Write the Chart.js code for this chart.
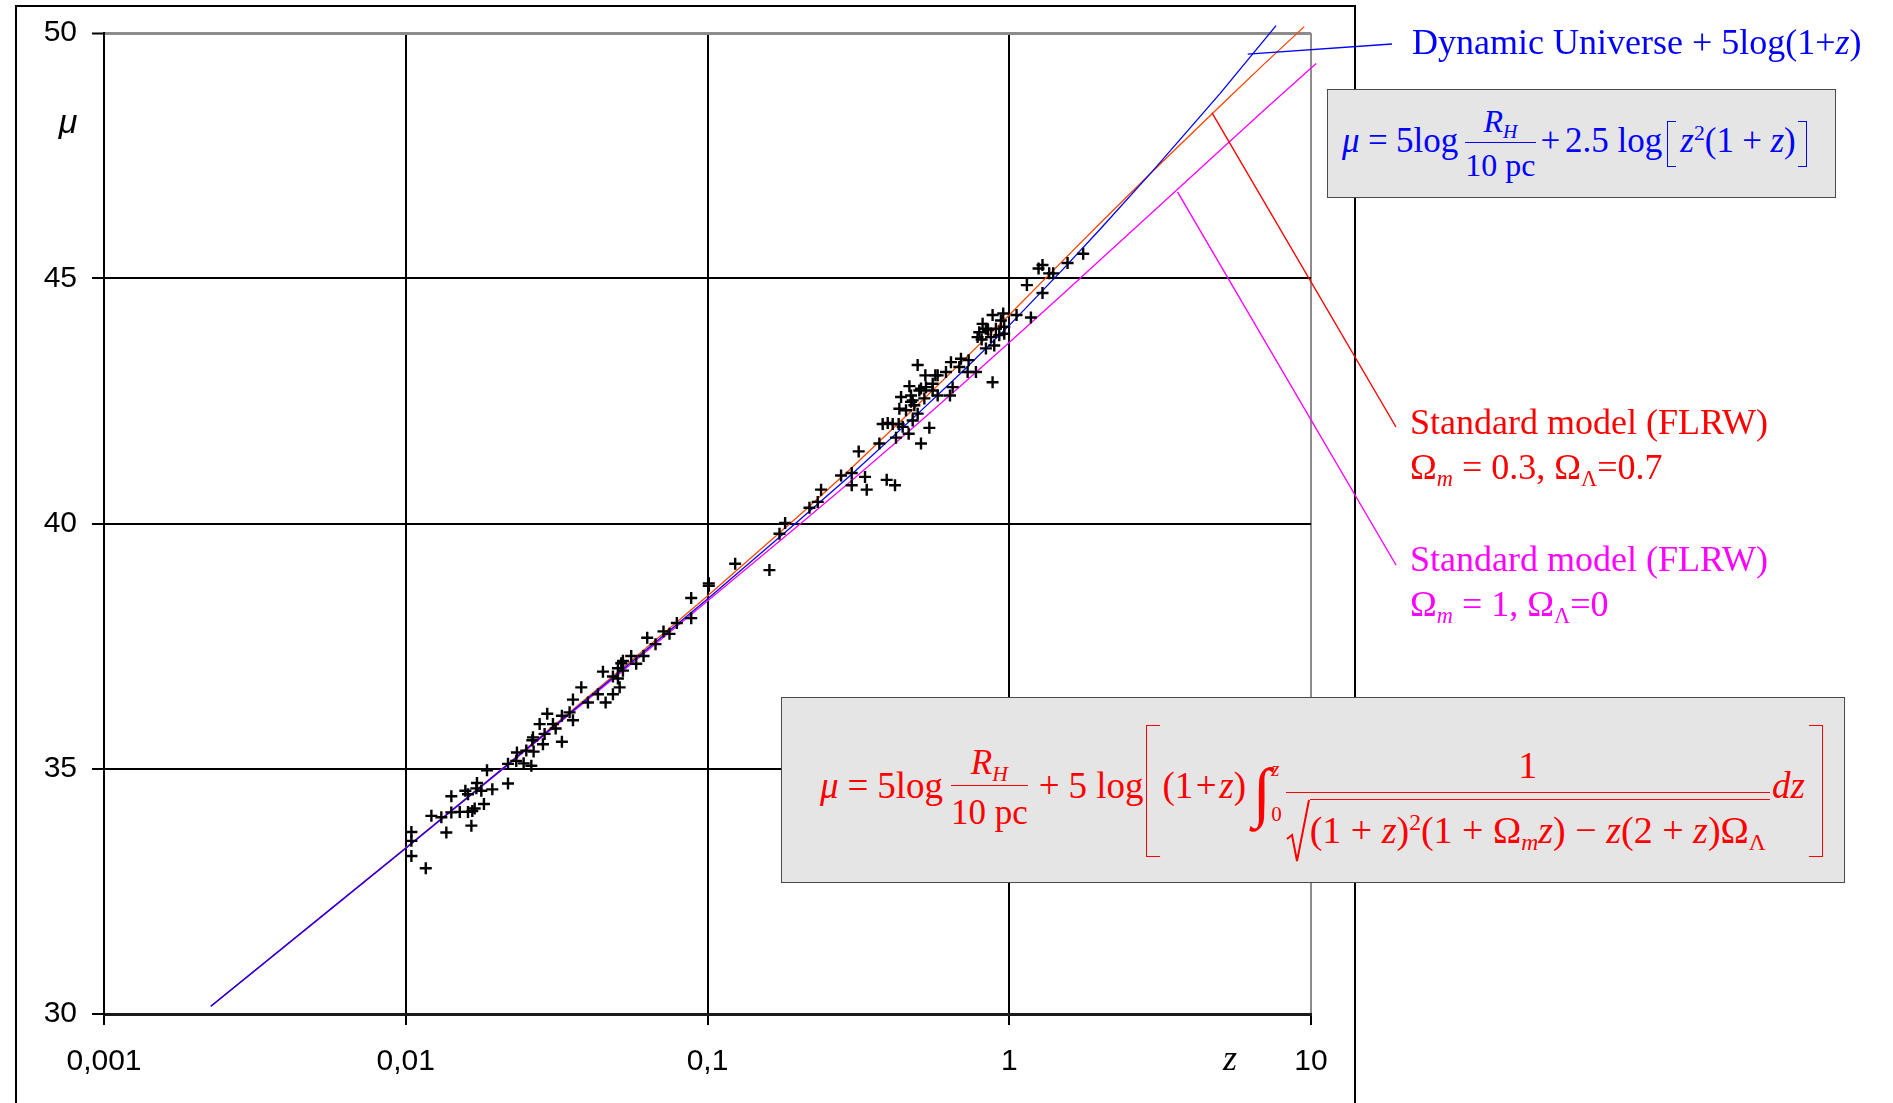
<!DOCTYPE html>
<html lang="en">
<head>
<meta charset="UTF-8">
<title>Distance modulus versus redshift</title>
<style>
    html, body { margin: 0; padding: 0; background: #fff; overflow: hidden; }
    #wrap { position: relative; width: 1893px; height: 1103px; overflow: hidden; }
    #chart { position: absolute; left: 0; top: 0; }
    #frame {
        position: absolute; left: 15px; top: 5px; width: 1341px; height: 1200px;
        box-sizing: border-box; border: 2px solid #000; border-bottom: none;
    }
    .lbl { position: absolute; white-space: nowrap; font-family: 'Liberation Serif', serif; }
    .sym { position: absolute; text-align: center; font-style: italic; }
    #mu-label { left: 54px; top: 102px; width: 28px; line-height: 36px; font: italic 34px 'Liberation Sans', sans-serif; }
    #z-label { left: 1218px; top: 1037px; width: 24px; line-height: 36px; font: italic 36px 'Liberation Serif', serif; }

    #du-label { left: 1412px; top: 24px; font-size: 36px; line-height: 36px; color: #0000ff; }
    .flrw { left: 1410px; font-size: 36px; line-height: 45px; }
    #lcdm-label { top: 400px; color: #ff0000; }
    #eds-label { top: 537px; color: #ff00ff; }
    .flrw sub, .box sub { font-size: 0.62em; vertical-align: -0.3em; line-height: 0; }
    .box sup { font-size: 0.62em; vertical-align: 0.55em; line-height: 0; }

    .box {
        position: absolute; box-sizing: border-box; background: #e5e5e5;
        border: 1.5px solid #4a4a4a; display: flex; align-items: center;
        font-family: 'Liberation Serif', serif; white-space: nowrap;
    }
    .eq { line-height: 1.15; }
    .op { margin: 0 0.24em; }
    .op.n { margin: 0 0.14em; }
    .op.t { margin: 0 0.07em; }
    .frac { display: inline-flex; flex-direction: column; align-items: center; vertical-align: middle; }
    .frac > .num { align-self: stretch; text-align: center; border-bottom: 1.6px solid currentColor; padding: 0 2px; }
    .frac > .den { text-align: center; }
    .brk { display: inline-block; vertical-align: middle; box-sizing: border-box; border: 1.6px solid currentColor; }
    .brk.l { border-right: none; }
    .brk.r { border-left: none; }

    #du-box { left: 1327px; top: 89px; width: 509px; height: 109px; color: #0000ff; font-size: 35px; padding-left: 14px; }
    #du-box .frac { font-size: 32px; margin: 0 0 0 7px; }
    #du-box .frac > .num { line-height: 42px; }
    #du-box .frac > .den { line-height: 44px; }
    #du-box .brk { width: 9px; height: 46px; margin: 0 4px 0 5px; }
    #du-box .brk.r { margin: 0 0 0 2px; }

    #flrw-box { left: 781px; top: 697px; width: 1064px; height: 186px; color: #ff0000; font-size: 37px; padding-left: 38px; }
    #flrw-box .frac.sm { font-size: 35px; margin: 0 2px 0 8px; }
    #flrw-box .frac.sm > .num { line-height: 44px; }
    #flrw-box .frac.sm > .den { line-height: 54px; }
    #flrw-box .brk { width: 14px; height: 132px; margin: 0 2px 0 3px; position: relative; top: 1px; }
    #flrw-box .brk.r { margin: 0 0 0 4px; }
    #flrw-box .int { display: inline-flex; align-items: center; vertical-align: middle; margin: 0 2px 0 7px; position: relative; top: 2px; }
    #flrw-box .int .sign { font-size: 66px; line-height: 1; }
    #flrw-box .int .lim { display: inline-flex; flex-direction: column; justify-content: space-between; height: 66px; font-size: 21px; line-height: 21px; margin-left: 0; }
    #flrw-box .frac.lg { font-size: 38px; margin: 0 2px; position: relative; top: 6px; }
    #flrw-box .frac.lg > .num {
        height: 66px; display: flex; align-items: flex-end; justify-content: center;
        line-height: 44px; padding-bottom: 5px; box-sizing: border-box;
        border-bottom-width: 1.6px; margin-bottom: 6px;
    }
    #flrw-box .frac.lg > .den { height: 66px; }
    .rad { display: inline-flex; align-items: flex-start; }
    .rad svg { display: block; }
    .radicand { border-top: 1.6px solid currentColor; line-height: 60px; padding-right: 4px; }
    .radicand .op { margin: 0 0.25em; }
</style>
</head>
<body>
<div id="wrap">
    <div id="frame"></div>
    <canvas id="chart" width="1893" height="1103"></canvas>

    <div class="sym" id="mu-label">μ</div>
    <div class="sym" id="z-label">z</div>

    <div class="lbl" id="du-label">Dynamic Universe + 5log(1+<i>z</i>)</div>
    <div class="lbl flrw" id="lcdm-label">Standard model (FLRW)<br>Ω<sub><i>m</i></sub> = 0.3, Ω<sub>Λ</sub>=0.7</div>
    <div class="lbl flrw" id="eds-label">Standard model (FLRW)<br>Ω<sub><i>m</i></sub> = 1, Ω<sub>Λ</sub>=0</div>

    <div class="box" id="du-box"><div class="eq"><i>μ</i><span class="op">=</span>5log<span class="frac"><span class="num"><i>R</i><sub><i>H</i></sub></span><span class="den">10 pc</span></span><span class="op n">+</span>2.5 log<span class="brk l"></span><i>z</i><sup>2</sup>(1<span class="op">+</span><i>z</i>)<span class="brk r"></span></div></div>

    <div class="box" id="flrw-box"><div class="eq"><i>μ</i><span class="op">=</span>5log<span class="frac sm"><span class="num"><i>R</i><sub><i>H</i></sub></span><span class="den">10 pc</span></span><span class="op">+</span>5 log<span class="brk l"></span>(1<span class="op t">+</span><i>z</i>)<span class="int"><span class="sign">∫</span><span class="lim"><i>z</i><span>0</span></span></span><span class="frac lg"><span class="num">1</span><span class="den"><span class="rad"><svg width="24" height="64" viewBox="0 0 24 64"><path d="M1 40 L6 36 L11 62 L23 1" fill="none" stroke="#ff0000" stroke-width="2"/></svg><span class="radicand">(1<span class="op">+</span><i>z</i>)<sup>2</sup>(1<span class="op">+</span>Ω<sub><i>m</i></sub><i>z</i>)<span class="op">−</span><i>z</i>(2<span class="op">+</span><i>z</i>)Ω<sub>Λ</sub></span></span></span></span><i>dz</i><span class="brk r"></span></div></div>
</div>

<script src="https://cdn.jsdelivr.net/npm/chart.js"></script>
<script>
    // supernova sample: redshift z and distance modulus mu
    const snZ = [
        0.01044, 0.01044, 0.01044, 0.01165, 0.01216, 0.01312, 0.01363, 0.01416, 0.01416, 0.0151,
        0.01576, 0.01608, 0.01608, 0.0165, 0.01662, 0.01692, 0.01714, 0.01722, 0.0178, 0.01816,
        0.01859, 0.01936, 0.02182, 0.02182, 0.02324, 0.02336, 0.02459, 0.02509, 0.02607, 0.02627,
        0.0264, 0.02653, 0.02778, 0.02849, 0.02885, 0.02944, 0.03075, 0.03139, 0.03292, 0.03292,
        0.03491, 0.03582, 0.03582, 0.03817, 0.04016, 0.04334, 0.04503, 0.04596, 0.0486, 0.0486,
        0.05048, 0.05048, 0.05114, 0.05179, 0.05245, 0.05245, 0.05587, 0.05804, 0.06138, 0.06313,
        0.06726, 0.07148, 0.07483, 0.07914, 0.08831, 0.08831, 0.101, 0.101, 0.1235, 0.1604,
        0.1732, 0.1808, 0.2177, 0.2319, 0.2379, 0.2771, 0.3006, 0.3006, 0.317, 0.3327,
        0.337, 0.3712, 0.3807, 0.3925, 0.3956, 0.4109, 0.4182, 0.4214, 0.4301, 0.4323,
        0.438, 0.4434, 0.4549, 0.4642, 0.4667, 0.4726, 0.4725, 0.4786, 0.4786, 0.4847,
        0.4971, 0.4971, 0.5035, 0.5099, 0.5099, 0.5232, 0.5272, 0.5297, 0.5435, 0.5574,
        0.5576, 0.5689, 0.5791, 0.579, 0.6171, 0.6361, 0.6409, 0.6491, 0.6831, 0.6918,
        0.7278, 0.7333, 0.7755, 0.7854, 0.7954, 0.81, 0.816, 0.837, 0.837, 0.85,
        0.87, 0.8806, 0.8806, 0.8918, 0.9033, 0.9267, 0.9384, 0.9552, 0.9625, 0.9625,
        1.0573, 1.1442, 1.1797, 1.2506, 1.2889, 1.2889, 1.3561, 1.3983, 1.5603, 1.7579
    ];
    const snMu = [
        33.71, 33.53, 33.22, 32.97, 34.04, 34.01, 33.70, 34.44, 34.11, 34.12,
        34.55, 34.48, 34.12, 33.84, 34.14, 34.19, 34.60, 34.71, 34.55, 34.28,
        34.97, 34.58, 35.10, 34.70, 35.16, 35.33, 35.11, 35.37, 35.06, 35.58,
        35.64, 35.35, 35.91, 35.50, 35.71, 36.12, 35.91, 35.82, 36.08, 35.55,
        36.15, 36.41, 35.99, 36.66, 36.35, 36.52, 36.98, 36.35, 36.52, 36.88,
        37.05, 36.84, 36.66, 37.15, 37.20, 37.00, 37.30, 37.14, 37.30, 37.67,
        37.54, 37.80, 37.75, 37.97, 38.48, 38.07, 38.73, 38.78, 39.18, 39.05,
        39.79, 40.01, 40.32, 40.44, 40.69, 40.98, 41.03, 40.78, 41.47, 40.95,
        40.69, 41.63, 42.03, 40.89, 42.05, 42.03, 40.78, 41.75, 42.03, 42.34,
        42.58, 41.97, 42.31, 41.83, 42.80, 42.61, 42.48, 42.10, 42.51, 42.41,
        43.23, 42.24, 42.71, 41.63, 42.75, 42.55, 43.02, 42.78, 41.95, 42.71,
        42.85, 43.02, 42.61, 43.02, 43.09, 42.61, 43.29, 42.78, 43.19, 43.36,
        43.09, 43.33, 43.09, 43.80, 43.90, 43.75, 44.07, 43.97, 43.57, 43.95,
        43.80, 44.25, 42.88, 43.63, 43.97, 43.84, 44.14, 44.28, 44.01, 43.87,
        44.25, 44.86, 44.20, 45.20, 45.27, 44.70, 45.10, 45.10, 45.31, 45.50
    ];

    // Dynamic Universe curve
    const duZ  = [0.00226, 0.005, 0.01, 0.02, 0.05, 0.1, 0.2, 0.3, 0.5, 0.7, 1, 1.5, 2, 3, 5, 7.66];
    const duMu = [30.16, 31.88, 33.38, 34.90, 36.92, 38.46, 40.05, 41.00, 42.25, 43.10, 44.04, 45.17, 46.00, 47.20, 48.77, 50.15];

    // FLRW, Omega_m = 0.3, Omega_L = 0.7
    const lcdmZ  = [0.00226, 0.005, 0.01, 0.02, 0.05, 0.1, 0.2, 0.3, 0.5, 0.7, 1, 1.5, 2, 3, 5, 7, 9.5];
    const lcdmMu = [30.16, 31.88, 33.39, 34.91, 36.95, 38.52, 40.15, 41.13, 42.43, 43.31, 44.25, 45.35, 46.12, 47.19, 48.51, 49.37, 50.13];

    // FLRW, Omega_m = 1, Omega_L = 0
    const edsZ  = [0.00226, 0.005, 0.01, 0.02, 0.05, 0.1, 0.2, 0.3, 0.5, 0.7, 1, 1.5, 2, 3, 5, 7, 10.4];
    const edsMu = [30.16, 31.87, 33.38, 34.89, 36.89, 38.42, 39.96, 40.87, 42.05, 42.84, 43.69, 44.67, 45.37, 46.36, 47.61, 48.43, 49.38];

    const xTicks = [0.001, 0.01, 0.1, 1, 10];
    const xTickLabels = ['0,001', '0,01', '0,1', '1', '10'];
    const yTicks = [30, 35, 40, 45, 50];

    // where the label leader lines touch the curves (z, mu)
    const calloutZ  = [6.17, 4.70, 3.61];
    const calloutMu = [49.57, 48.37, 46.76];

    const BLUE = '#0000ff';
    const RED_LINE = '#ff4500';
    const MAGENTA = '#ff00ff';

    const toPoints = (xs, ys) => xs.map((x, i) => ({ x: x, y: ys[i] }));

    // leader lines run from the curve to the text on the right
    const calloutEnds = [
        { x: 1392, y: 44, color: BLUE },
        { x: 1396, y: 427, color: '#ff0000' },
        { x: 1396, y: 565, color: MAGENTA }
    ];

    const calloutPlugin = {
        id: 'callouts',
        afterDatasetsDraw(chart) {
            const { ctx, scales } = chart;
            calloutEnds.forEach((end, i) => {
                ctx.save();
                ctx.strokeStyle = end.color;
                ctx.lineWidth = 1.4;
                ctx.beginPath();
                ctx.moveTo(scales.x.getPixelForValue(calloutZ[i]), scales.y.getPixelForValue(calloutMu[i]));
                ctx.lineTo(end.x, end.y);
                ctx.stroke();
                ctx.restore();
            });
        }
    };

    Chart.defaults.font.family = "'Liberation Sans', Arial, sans-serif";
    Chart.defaults.color = '#000';

    const gray = '#8c8c8c';

    new Chart(document.getElementById('chart'), {
        type: 'scatter',
        data: {
            datasets: [
                {
                    label: 'Supernovae',
                    data: toPoints(snZ, snMu),
                    pointStyle: 'cross',
                    pointRadius: 6,
                    pointBorderWidth: 2.4,
                    pointBorderColor: '#000',
                    showLine: false
                },
                {
                    label: 'Dynamic Universe',
                    data: toPoints(duZ, duMu),
                    showLine: true,
                    pointRadius: 0,
                    borderColor: BLUE,
                    borderWidth: 1.3,
                    clip: false
                },
                {
                    label: 'FLRW 0.3 / 0.7',
                    data: toPoints(lcdmZ, lcdmMu),
                    showLine: true,
                    pointRadius: 0,
                    borderColor: RED_LINE,
                    borderWidth: 1.3,
                    clip: false
                },
                {
                    label: 'FLRW 1 / 0',
                    data: toPoints(edsZ, edsMu),
                    showLine: true,
                    pointRadius: 0,
                    borderColor: MAGENTA,
                    borderWidth: 1.3,
                    clip: false
                }
            ]
        },
        options: {
            responsive: false,
            animation: false,
            events: [],
            layout: { padding: { left: 0, top: 33, right: 582, bottom: 0 } },
            plugins: {
                legend: { display: false },
                tooltip: { enabled: false }
            },
            scales: {
                x: {
                    type: 'logarithmic',
                    position: 'bottom',
                    min: 0.001,
                    max: 10,
                    afterBuildTicks: s => { s.ticks = xTicks.map(v => ({ value: v })); },
                    afterFit: s => { s.height = 89; },
                    ticks: {
                        autoSkip: false,
                        maxRotation: 0,
                        padding: 19,
                        font: { size: 30 },
                        callback: (v, i) => xTickLabels[i]
                    },
                    grid: {
                        color: c => (c.tick && c.tick.value === 10 ? gray : '#000'),
                        lineWidth: 2,
                        tickLength: 11,
                        tickColor: '#000',
                        tickWidth: 2
                    },
                    border: { color: '#1a1a1a', width: 3 }
                },
                y: {
                    type: 'linear',
                    min: 30,
                    max: 50,
                    afterBuildTicks: s => { s.ticks = yTicks.map(v => ({ value: v })); },
                    afterFit: s => { s.width = 104; },
                    ticks: {
                        padding: 15,
                        font: { size: 30 }
                    },
                    grid: {
                        color: c => (c.tick && c.tick.value === 50 ? gray : '#000'),
                        lineWidth: c => (c.tick && c.tick.value === 50 ? 3 : 2),
                        tickLength: 12,
                        tickColor: '#000',
                        tickWidth: 2
                    },
                    border: { color: '#000', width: 2 }
                }
            }
        },
        plugins: [calloutPlugin]
    });
</script>
</body>
</html>
